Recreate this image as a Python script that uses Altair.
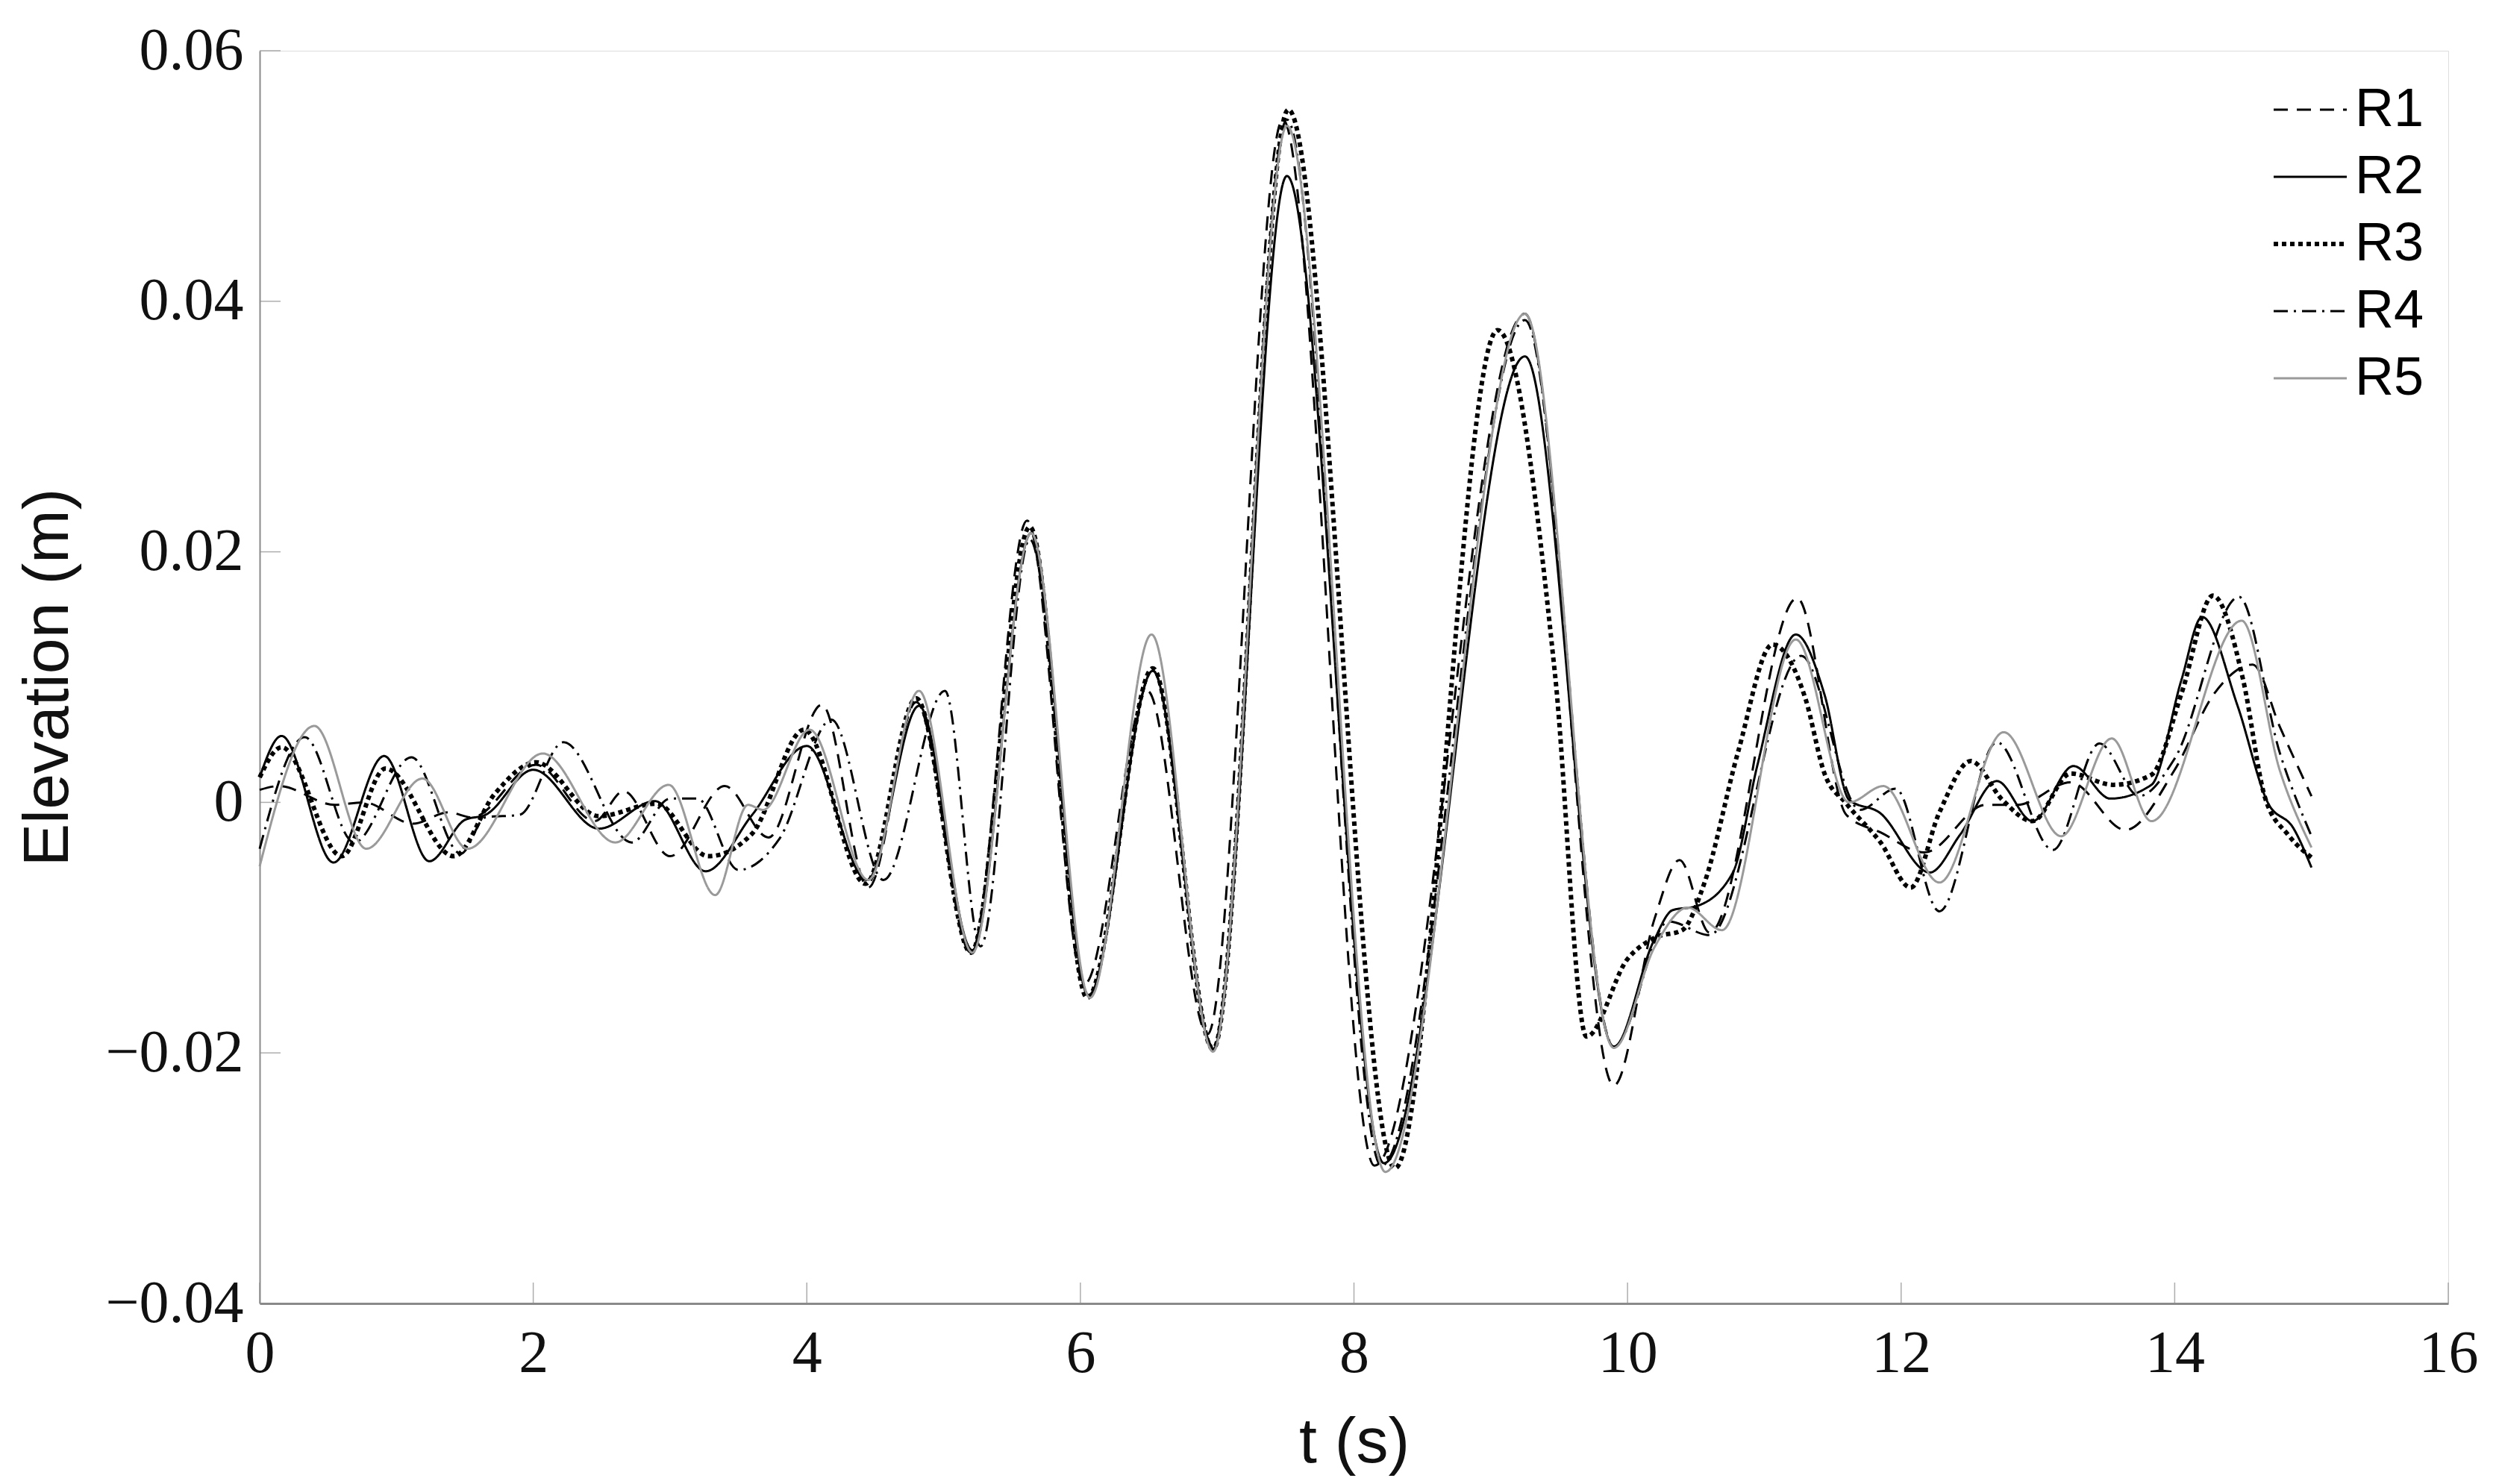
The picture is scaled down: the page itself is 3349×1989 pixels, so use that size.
import altair as alt
import pandas as pd

series = ["R1", "R2", "R3", "R4", "R5"]

t_R1 = [0, 0.14, 0.55, 0.76, 1.12, 1.38, 1.55, 2.02, 2.45, 2.66, 3.0, 3.4, 3.72, 4.11, 4.45, 4.8, 5.2, 5.61,
        6.03, 6.49, 6.93, 7.48, 8.15, 9.25, 9.9, 10.2, 10.38, 10.6, 11.24, 11.6, 11.85, 12.17, 12.62, 12.85,
        13.24, 13.64, 14.0, 14.29, 14.57, 14.77, 15.0]
v_R1 = [1.0, 1.3, -0.2, 0.0, -1.7, -0.8, -1.2, 3.0, -1.5, 0.9, -4.3, 1.3, -2.8, 7.8, -6.8, 8.0, -12.0, 22.5,
        -14.5, 8.9, -18.5, 54.5, -29.0, 39.0, -22.6, -9.2, -4.6, -10.4, 16.3, -1.0, -2.4, -4.0, -0.2, -0.2,
        1.6, -2.2, 2.6, 8.7, 11.0, 6.0, 0.5]

t_R2 = [0, 0.16, 0.54, 0.91, 1.24, 1.5, 1.65, 2.0, 2.48, 2.89, 3.26, 3.6, 4.0, 4.44, 4.82, 5.21, 5.64, 6.06,
        6.53, 6.97, 7.51, 8.22, 9.25, 9.9, 10.19, 10.33, 10.5, 10.77, 10.95, 11.23, 11.44, 11.62, 11.84,
        12.21, 12.43, 12.7, 12.96, 13.26, 13.53, 13.83, 14.05, 14.2, 14.46, 14.68, 14.87, 15.0]
v_R2 = [2.0, 5.3, -4.8, 3.7, -4.7, -1.4, -1.0, 2.6, -2.1, 0.1, -5.5, -1.0, 4.5, -6.2, 7.7, -11.8, 21.5, -15.4,
        10.5, -19.7, 50.0, -28.8, 35.6, -19.5, -11.1, -8.6, -8.3, -5.6, 3.0, 13.4, 8.6, 0.2, -0.8,
        -5.6, -2.6, 1.7, -1.5, 2.9, 0.3, 1.4, 9.8, 14.8, 7.7, 0.0, -2.1, -5.2]

t_R3 = [0, 0.16, 0.6, 0.92, 1.42, 1.72, 2.02, 2.48, 2.9, 3.28, 3.6, 3.98, 4.43, 4.8, 5.2, 5.63, 6.05, 6.53,
        6.97, 7.52, 8.3, 9.05, 9.47, 9.7, 10.0, 10.2, 10.4, 10.56, 10.81, 11.06, 11.3, 11.44, 11.6, 11.85,
        12.07, 12.28, 12.51, 12.74, 12.96, 13.24, 13.55, 13.83, 14.05, 14.28, 14.5, 14.66, 14.83, 15.0]
v_R3 = [2.0, 4.4, -4.3, 2.7, -4.3, 0.7, 3.2, -1.1, -0.1, -4.3, -2.5, 5.8, -6.5, 8.3, -12.0, 22.0, -15.6, 10.7,
        -19.7, 55.3, -29.2, 37.7, 10.2, -18.7, -12.5, -10.8, -10.2, -6.5, 4.1, 12.6, 8.3, 2.3, -0.1, -3.2,
        -6.8, -0.8, 3.3, 0.2, -1.5, 2.3, 1.4, 2.2, 8.7, 16.5, 9.8, 0.4, -2.6, -4.4]

t_R4 = [0, 0.33, 0.69, 1.11, 1.47, 1.65, 1.9, 2.22, 2.72, 3.0, 3.2, 3.5, 3.8, 4.18, 4.56, 5.01, 5.27, 5.63,
        6.06, 6.53, 6.97, 7.51, 8.2, 9.25, 9.9, 10.3, 10.6, 11.27, 11.7, 11.96, 12.28, 12.7, 13.11, 13.45,
        13.74, 14.0, 14.47, 14.77, 15.0]
v_R4 = [-3.7, 5.2, -3.2, 3.6, -4.1, -1.2, -1.0, 4.8, -3.2, 0.3, 0.3, -5.4, -2.9, 6.6, -6.2, 8.9, -11.5, 21.0,
        -15.4, 10.5, -19.5, 54.5, -29.0, 38.5, -19.5, -9.5, -10.6, 11.7, -0.6, 1.1, -8.7, 4.8, -3.8, 4.7,
        0.5, 3.5, 16.4, 3.9, -2.7]

t_R5 = [0, 0.4, 0.78, 1.19, 1.52, 2.07, 2.6, 2.99, 3.33, 3.57, 3.68, 4.02, 4.45, 4.82, 5.21, 5.64, 6.07, 6.52,
        6.97, 7.51, 8.23, 9.25, 9.9, 10.2, 10.44, 10.69, 11.23, 11.62, 11.87, 12.28, 12.75, 13.17, 13.54,
        13.83, 14.49, 14.77, 15.0]
v_R5 = [-5.1, 6.1, -3.7, 1.9, -3.7, 3.9, -3.2, 1.4, -7.4, -0.2, -0.6, 5.8, -6.2, 8.9, -12.0, 21.5, -15.6, 13.4,
        -19.9, 54.0, -29.5, 39.0, -19.6, -11.5, -8.4, -10.2, 13.0, 0.0, 1.3, -6.4, 5.6, -2.7, 5.1,
        -1.5, 14.5, 2.5, -3.6]

x_ticks = [0, 2, 4, 6, 8, 10, 12, 14, 16]
y_ticks = [-0.04, -0.02, 0, 0.02, 0.04, 0.06]

colors = ["#000000", "#000000", "#000000", "#000000", "#9a9a9a"]
dashes = [[19, 12], [1, 0], [6, 5], [19, 8, 3, 8], [1, 0]]

rows = []
for name, ts, vs in [("R1", t_R1, v_R1), ("R2", t_R2, v_R2), ("R3", t_R3, v_R3),
                     ("R4", t_R4, v_R4), ("R5", t_R5, v_R5)]:
    for t, v in zip(ts, vs):
        rows.append({"series": name, "t": t, "eta": v / 1000.0})
df = pd.DataFrame(rows)

W, H = 2933, 1679
xscale = alt.Scale(domain=[0, 16], nice=False, zero=False)
yscale = alt.Scale(domain=[-0.04, 0.06], nice=False, zero=False)

legend = alt.Legend(
    title=None, orient="none", legendX=2712, legendY=43, symbolType="stroke",
    symbolSize=9604, labelFont="Liberation Sans", labelFontSize=72, labelColor="#000000",
    labelOffset=24, rowPadding=18, padding=0, symbolStrokeColor="#000000",
    symbolStrokeWidth={"expr": "datum && datum.value == 'R3' ? 6 : 3"},
)

lines = alt.Chart(df).mark_line(interpolate="monotone").encode(
    x=alt.X("t:Q", scale=xscale, title="t (s)",
            axis=alt.Axis(values=x_ticks, tickSize=0, grid=False, domainColor="#8a8a8a", domainWidth=3,
                          labelFont="Liberation Serif", labelFontSize=80, labelColor="#111111",
                          labelPadding=28, labelFlush=False, labelLimit=0,
                          labelExpr="format(datum.value, 'd')",
                          titleFont="Liberation Sans", titleFontSize=86, titleFontWeight="normal",
                          titleColor="#111111", titleY=186, titleBaseline="middle")),
    y=alt.Y("eta:Q", scale=yscale, title="Elevation (m)",
            axis=alt.Axis(values=y_ticks, tickSize=0, grid=False, domainColor="#8a8a8a", domainWidth=2,
                          labelFont="Liberation Serif", labelFontSize=80, labelColor="#111111",
                          labelPadding=22, labelFlush=False, labelLimit=0,
                          labelExpr="datum.value == 0 ? '0' : replace(format(datum.value, '.2f'), '-', '\u2212')",
                          titleFont="Liberation Sans", titleFontSize=86, titleFontWeight="normal",
                          titleColor="#111111", titleX=-284, titleBaseline="middle")),
    color=alt.Color("series:N", scale=alt.Scale(domain=series, range=colors), legend=legend),
    strokeDash=alt.StrokeDash("series:N", scale=alt.Scale(domain=series, range=dashes), legend=legend),
    strokeWidth=alt.condition("datum.series == 'R3'", alt.value(6), alt.value(3)),
)

xt = alt.Chart(pd.DataFrame({"t": x_ticks})).mark_tick(
    orient="vertical", size=28, thickness=1.5, color="#8a8a8a"
).encode(x=alt.X("t:Q", scale=xscale), y=alt.value(H - 14))

yt = alt.Chart(pd.DataFrame({"eta": y_ticks})).mark_tick(
    orient="horizontal", size=28, thickness=1.5, color="#8a8a8a"
).encode(y=alt.Y("eta:Q", scale=yscale), x=alt.value(14))

chart = alt.layer(xt, yt, lines).properties(
    width=W, height=H,
    autosize=alt.AutoSizeParams(type="none"),
    padding={"left": 340, "top": 60, "right": 60, "bottom": 240},
).configure_view(stroke=None).configure(background="white")

chart.save("out.html", embed_options={"renderer": "svg", "actions": False})
